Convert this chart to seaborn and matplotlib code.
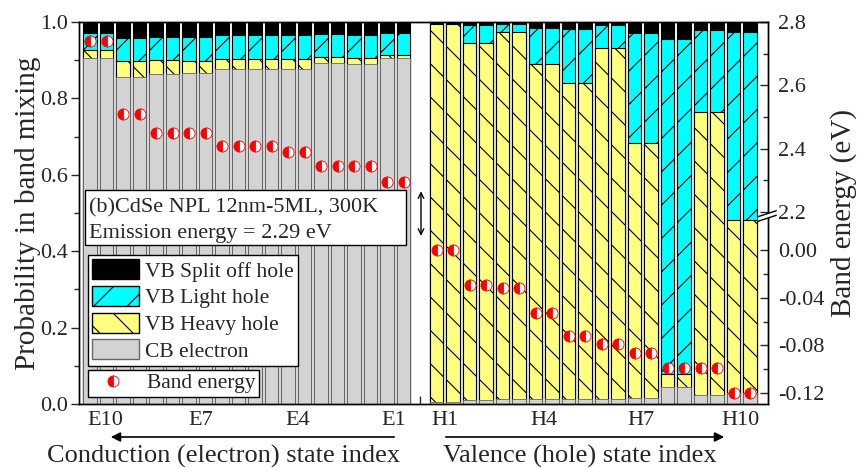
import numpy as np
import pandas as pd
import seaborn as sns
import matplotlib
matplotlib.use("Agg")
import matplotlib.pyplot as plt
from matplotlib.patches import Patch, Rectangle, Polygon, FancyArrowPatch
from matplotlib.lines import Line2D
from matplotlib.ticker import FixedLocator, FixedFormatter, NullFormatter

# ---------------- data ----------------
e_states = ["E10", "E9", "E8", "E7", "E6", "E5", "E4", "E3", "E2", "E1"]
e_cb = [0.907, 0.855, 0.864, 0.866, 0.876, 0.876, 0.876, 0.892, 0.890, 0.907]
e_hh = [0.021, 0.044, 0.036, 0.033, 0.026, 0.026, 0.026, 0.017, 0.017, 0.007]
e_lh = [0.042, 0.058, 0.062, 0.061, 0.063, 0.063, 0.063, 0.059, 0.060, 0.058]
e_so = [0.030, 0.043, 0.038, 0.040, 0.035, 0.035, 0.035, 0.032, 0.033, 0.028]
e_energy = [2.740, 2.508, 2.450, 2.450, 2.408, 2.408, 2.390, 2.345, 2.345, 2.294]

h_states = ["H1", "H2", "H3", "H4", "H5", "H6", "H7", "H8", "H9", "H10"]
h_cb = [0.005, 0.010, 0.012, 0.012, 0.014, 0.014, 0.015, 0.045, 0.023, 0.030]
h_hh = [0.990, 0.936, 0.963, 0.877, 0.827, 0.917, 0.669, 0.034, 0.742, 0.452]
h_lh = [0.003, 0.046, 0.019, 0.096, 0.141, 0.060, 0.286, 0.876, 0.214, 0.492]
h_so = [0.002, 0.008, 0.006, 0.015, 0.018, 0.009, 0.030, 0.045, 0.021, 0.026]
h_energy = [0.000, -0.029, -0.032, -0.053, -0.072, -0.079, -0.086, -0.099, -0.099, -0.120]

tick_labels = ["E10", "E7", "E4", "E1", "H1", "H4", "H7", "H10"]
tick_pos = [0.9, 6.7, 12.6, 18.4, 21.5, 27.5, 33.4, 39.4]

# each state is spin-degenerate: two bars per state, empty slot between E and H
e_pos = np.arange(20)
h_pos = np.arange(21, 41)
df = pd.DataFrame({
    "pos": np.concatenate([e_pos, h_pos]),
    "cb": np.repeat(e_cb + h_cb, 2),
    "hh": np.repeat(e_hh + h_hh, 2),
    "lh": np.repeat(e_lh + h_lh, 2),
    "so": np.repeat(e_so + h_so, 2),
    "energy": np.repeat(e_energy + h_energy, 2),
})
df["c1"] = df["cb"]
df["c2"] = df["c1"] + df["hh"]
df["c3"] = df["c2"] + df["lh"]
df["c4"] = df["c3"] + df["so"]

# ---------------- style ----------------
sns.set_style("ticks")
plt.rcParams["font.family"] = ["Liberation Serif", "DejaVu Serif"]
plt.rcParams["hatch.linewidth"] = 0.8
plt.rcParams["axes.linewidth"] = 1.0

GRAY = "#d3d3d3"
YEL = "#ffff80"
CYAN = "#00ffff"
FS = 16
LFS = 15.5

fig = plt.figure(figsize=(8.59, 4.68), dpi=100)
ax = fig.add_axes([79 / 859, 1 - 404 / 468, (768 - 79) / 859, (404 - 22) / 468])

W = 0.82
common = dict(data=df, x="pos", ax=ax, native_scale=True, orient="x",
              width=W, errorbar=None, saturation=1)
sns.barplot(y="c4", color="black", edgecolor="black", linewidth=0.8, **common)
sns.barplot(y="c3", color=CYAN, edgecolor="black", linewidth=0.8, hatch="/", **common)
sns.barplot(y="c2", color=YEL, edgecolor="black", linewidth=0.8, hatch="\\", **common)
sns.barplot(y="c1", color=GRAY, edgecolor="#666666", linewidth=0.6, **common)

ax.set_xlim(-0.667, 41.09)
ax.set_ylim(0, 1.0)
ax.set_xlabel("")
ax.set_ylabel("Probability in band mixing", fontsize=21, labelpad=-1)
ax.yaxis.set_major_locator(FixedLocator([0, 0.2, 0.4, 0.6, 0.8, 1.0]))
ax.yaxis.set_major_formatter(FixedFormatter(["0.0", "0.2", "0.4", "0.6", "0.8", "1.0"]))
ax.yaxis.set_minor_locator(FixedLocator([0.1, 0.3, 0.5, 0.7, 0.9]))
ax.tick_params(axis="y", which="major", direction="out", length=6, width=1,
               labelsize=FS, pad=2)
ax.tick_params(axis="y", which="minor", direction="out", length=3.5, width=1)
ax.xaxis.set_major_locator(FixedLocator(tick_pos))
ax.xaxis.set_major_formatter(FixedFormatter(tick_labels))
ax.xaxis.set_minor_locator(FixedLocator([6, 13, 20, 27, 34]))
ax.tick_params(axis="x", which="major", length=0, labelsize=FS, pad=5)
ax.tick_params(axis="x", which="minor", direction="in", length=6, width=1)
for s in ax.spines.values():
    s.set_color("black")
    s.set_linewidth(1.0)

# ---------------- broken right axis for band energy ----------------
E0, E1b, E2b, E3 = -0.1292, 0.028, 2.2, 2.8
F0, F1, F2, F3 = 0.0, 0.49, 0.503, 1.0
s_lo = (F1 - F0) / (E1b - E0)
s_mid = (F2 - F1) / (E2b - E1b)
s_up = (F3 - F2) / (E3 - E2b)


def fwd(e):
    e = np.asarray(e, dtype=float)
    return np.where(e <= E1b, F0 + (e - E0) * s_lo,
                    np.where(e <= E2b, F1 + (e - E1b) * s_mid, F2 + (e - E2b) * s_up))


def inv(f):
    f = np.asarray(f, dtype=float)
    return np.where(f <= F1, E0 + (f - F0) / s_lo,
                    np.where(f <= F2, E1b + (f - F1) / s_mid, E2b + (f - F2) / s_up))


ax2 = ax.twinx()
ax2.set_yscale("function", functions=(fwd, inv))
ax2.set_ylim(E0, E3)
sns.lineplot(data=df, x="pos", y="energy", ax=ax2, estimator=None, sort=False,
             linestyle="", marker="o", markersize=8, color="red",
             markerfacecolor="red", markerfacecoloralt="white", fillstyle="left",
             markeredgecolor="red", markeredgewidth=0.6, legend=False)
ax2.set_xlim(-0.667, 41.09)
ax2.set_xlabel("")
ax2.set_ylabel("Band energy (eV)", fontsize=21, labelpad=4)
r_major = [-0.12, -0.08, -0.04, 0.0, 2.2, 2.4, 2.6, 2.8]
r_labels = ["-0.12", "-0.08", "-0.04", "0.00", "2.2", "2.4", "2.6", "2.8"]
ax2.yaxis.set_major_locator(FixedLocator(r_major))
ax2.yaxis.set_major_formatter(FixedFormatter(r_labels))
ax2.yaxis.set_minor_locator(FixedLocator([-0.10, -0.06, -0.02, 2.3, 2.5, 2.7]))
ax2.yaxis.set_minor_formatter(NullFormatter())
ax2.tick_params(axis="y", which="major", direction="in", length=6, width=1,
                labelsize=FS, pad=7)
ax2.tick_params(axis="y", which="minor", direction="in", length=3.5, width=1)
for s in ax2.spines.values():
    s.set_color("black")
    s.set_linewidth(1.0)

# break mark on right spine
yb = 0.496
ax2.add_patch(Polygon([[0.985, yb - 0.018], [1.012, yb - 0.002], [1.012, yb + 0.010],
                       [0.985, yb - 0.006]], closed=True, transform=ax2.transAxes,
                      facecolor="white", edgecolor="none", clip_on=False, zorder=5))
for dy in (-0.018, -0.006):
    ax2.add_line(Line2D([0.985, 1.012], [yb + dy, yb + dy + 0.016],
                        transform=ax2.transAxes, color="black", lw=1.0,
                        clip_on=False, zorder=6))

# ---------------- annotations ----------------
ax2.add_patch(Rectangle((0.0087, 0.416), 0.466, 0.144, transform=ax2.transAxes,
                        facecolor="white", edgecolor="black", lw=1.0, zorder=4))
ax2.text(0.014, 0.514, "(b)CdSe NPL 12nm-5ML, 300K", transform=ax2.transAxes,
         fontsize=16, va="center", ha="left", zorder=5)
ax2.text(0.014, 0.447, "Emission energy = 2.29 eV", transform=ax2.transAxes,
         fontsize=16, va="center", ha="left", zorder=5)

ax.annotate("", xy=(20.06, 0.557), xytext=(20.06, 0.440),
            arrowprops=dict(arrowstyle="<->", color="black", lw=1.0,
                            shrinkA=0, shrinkB=0, mutation_scale=10))

handles = [Patch(facecolor="black", edgecolor="black", label="VB Split off hole"),
           Patch(facecolor=CYAN, edgecolor="black", hatch="/", label="VB Light hole"),
           Patch(facecolor=YEL, edgecolor="black", hatch="\\", label="VB Heavy hole"),
           Patch(facecolor=GRAY, edgecolor="#666666", label="CB electron")]
leg1 = ax2.legend(handles=handles, loc="upper left", bbox_to_anchor=(0.013, 0.390),
                  borderaxespad=0, fontsize=LFS, frameon=True, fancybox=False,
                  edgecolor="black", framealpha=1, handlelength=2.15,
                  handleheight=1.05, labelspacing=0.2, handletextpad=0.3,
                  borderpad=0.2)
leg1.get_frame().set_linewidth(1.0)
leg1.set_zorder(7)
ax2.add_artist(leg1)

be = Line2D([], [], linestyle="", marker="o", markersize=8, color="red",
            markerfacecolor="red", markerfacecoloralt="white", fillstyle="left",
            markeredgecolor="red", markeredgewidth=0.6, label="Band energy")
leg2 = ax2.legend(handles=[be], loc="upper left", bbox_to_anchor=(0.013, 0.089),
                  borderaxespad=0, fontsize=LFS, frameon=True, fancybox=False,
                  edgecolor="black", framealpha=1, handlelength=2.0,
                  handletextpad=0.6, borderpad=0.15)
leg2.get_frame().set_linewidth(1.0)
leg2.set_zorder(7)

# bottom direction arrows and group labels
fig.add_artist(FancyArrowPatch(
    (397 / 859, 1 - 437 / 468), (108 / 859, 1 - 437 / 468),
    transform=fig.transFigure, arrowstyle="-|>", mutation_scale=14,
    color="black", lw=1.2))
fig.add_artist(FancyArrowPatch(
    (443 / 859, 1 - 437 / 468), (727 / 859, 1 - 437 / 468),
    transform=fig.transFigure, arrowstyle="-|>", mutation_scale=14,
    color="black", lw=1.2))
fig.text(224 / 859, 1 - 456 / 468, "Conduction (electron) state index",
         fontsize=19, ha="center", va="center")
fig.text(580 / 859, 1 - 456 / 468, "Valence (hole) state index",
         fontsize=19, ha="center", va="center")

fig.savefig("out.png", dpi=100)
